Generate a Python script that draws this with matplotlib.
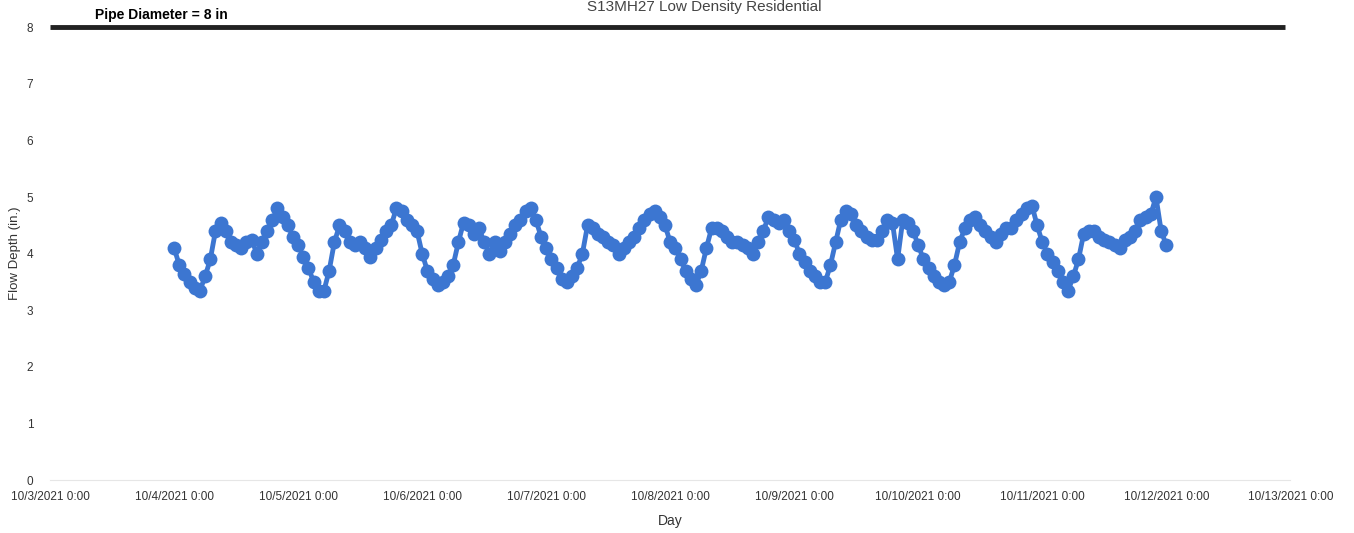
import matplotlib
matplotlib.use("Agg")
import matplotlib.pyplot as plt
import matplotlib.dates as mdates
import pandas as pd

plt.rcParams['font.family'] = ['Liberation Sans', 'DejaVu Sans']

# hourly flow depth readings (in.), one list per day
day_oct4 = [4.1, 3.8, 3.65, 3.5, 3.4, 3.35, 3.6, 3.9, 4.4, 4.55, 4.4, 4.2,
            4.15, 4.1, 4.2, 4.25, 4.0, 4.2, 4.4, 4.6, 4.8, 4.65, 4.5, 4.3]
day_oct5 = [4.15, 3.95, 3.75, 3.5, 3.35, 3.35, 3.7, 4.2, 4.5, 4.4, 4.2, 4.15,
            4.2, 4.1, 3.95, 4.1, 4.25, 4.4, 4.5, 4.8, 4.75, 4.6, 4.5, 4.4]
day_oct6 = [4.0, 3.7, 3.55, 3.45, 3.5, 3.6, 3.8, 4.2, 4.55, 4.5, 4.35, 4.45,
            4.2, 4.0, 4.2, 4.05, 4.2, 4.35, 4.5, 4.6, 4.75, 4.8, 4.6, 4.3]
day_oct7 = [4.1, 3.9, 3.75, 3.55, 3.5, 3.6, 3.75, 4.0, 4.5, 4.45, 4.35, 4.3,
            4.2, 4.15, 4.0, 4.1, 4.2, 4.3, 4.45, 4.6, 4.7, 4.75, 4.65, 4.5]
day_oct8 = [4.2, 4.1, 3.9, 3.7, 3.55, 3.45, 3.7, 4.1, 4.45, 4.45, 4.4, 4.3,
            4.2, 4.2, 4.15, 4.1, 4.0, 4.2, 4.4, 4.65, 4.6, 4.55, 4.6, 4.4]
day_oct9 = [4.25, 4.0, 3.85, 3.7, 3.6, 3.5, 3.5, 3.8, 4.2, 4.6, 4.75, 4.7,
            4.5, 4.4, 4.3, 4.25, 4.25, 4.4, 4.6, 4.55, 3.9, 4.6, 4.55, 4.4]
day_oct10 = [4.15, 3.9, 3.75, 3.6, 3.5, 3.45, 3.5, 3.8, 4.2, 4.45, 4.6, 4.65,
             4.5, 4.4, 4.3, 4.2, 4.35, 4.45, 4.45, 4.6, 4.7, 4.8, 4.85, 4.5]
day_oct11 = [4.2, 4.0, 3.85, 3.7, 3.5, 3.35, 3.6, 3.9, 4.35, 4.4, 4.4, 4.3,
             4.25, 4.2, 4.15, 4.1, 4.25, 4.3, 4.4, 4.6, 4.65, 4.7, 5.0, 4.4]
day_oct12 = [4.15]

depth = day_oct4 + day_oct5 + day_oct6 + day_oct7 + day_oct8 + day_oct9 + day_oct10 + day_oct11 + day_oct12
times = pd.date_range("2021-10-04 00:00", periods=len(depth), freq="h")

pipe_diameter = 8
pipe_span = [pd.Timestamp("2021-10-03 00:00"), pd.Timestamp("2021-10-12 23:00")]
x_range = [pd.Timestamp("2021-10-03 00:00"), pd.Timestamp("2021-10-13 00:00")]


def day_label(v, pos):
    d = mdates.num2date(v)
    return "{}/{}/{} 0:00".format(d.month, d.day, d.year)


fig = plt.figure(figsize=(13.54, 5.33), dpi=100)
ax = fig.add_axes([0.037, 0.099, 0.916, 0.850])

ax.plot(times, depth, color="#3c76d1", linewidth=3.5, marker="o",
        markersize=10, markeredgewidth=0)
ax.plot(pipe_span, [pipe_diameter, pipe_diameter], color="#222222", linewidth=3.5,
        solid_capstyle="butt", clip_on=False)
ax.text(pd.Timestamp("2021-10-03 08:45"), pipe_diameter + 0.1, "Pipe Diameter = 8 in",
        fontsize=10, fontweight="bold", va="bottom", ha="left", clip_on=False)

ax.set_xlim(x_range)
ax.set_ylim(0, 8)
ax.set_yticks(range(0, 9))
ax.xaxis.set_major_locator(mdates.DayLocator())
ax.xaxis.set_major_formatter(plt.FuncFormatter(day_label))
ax.tick_params(axis="both", length=0, labelsize=8.5, colors="#333333")
ax.tick_params(axis="x", pad=8)
ax.tick_params(axis="y", pad=12)

for s in ["top", "right", "left"]:
    ax.spines[s].set_visible(False)
ax.spines["bottom"].set_color("#e6e6e6")

ax.set_ylabel("Flow Depth (in.)", fontsize=9.5, color="#333333", labelpad=4)
ax.set_xlabel("Day", fontsize=10, color="#333333", labelpad=8)

fig.text(0.52, 1.0, "S13MH27 Low Density Residential", ha="center", va="top",
         fontsize=11, color="#444444")

fig.savefig("out.png", dpi=100)
